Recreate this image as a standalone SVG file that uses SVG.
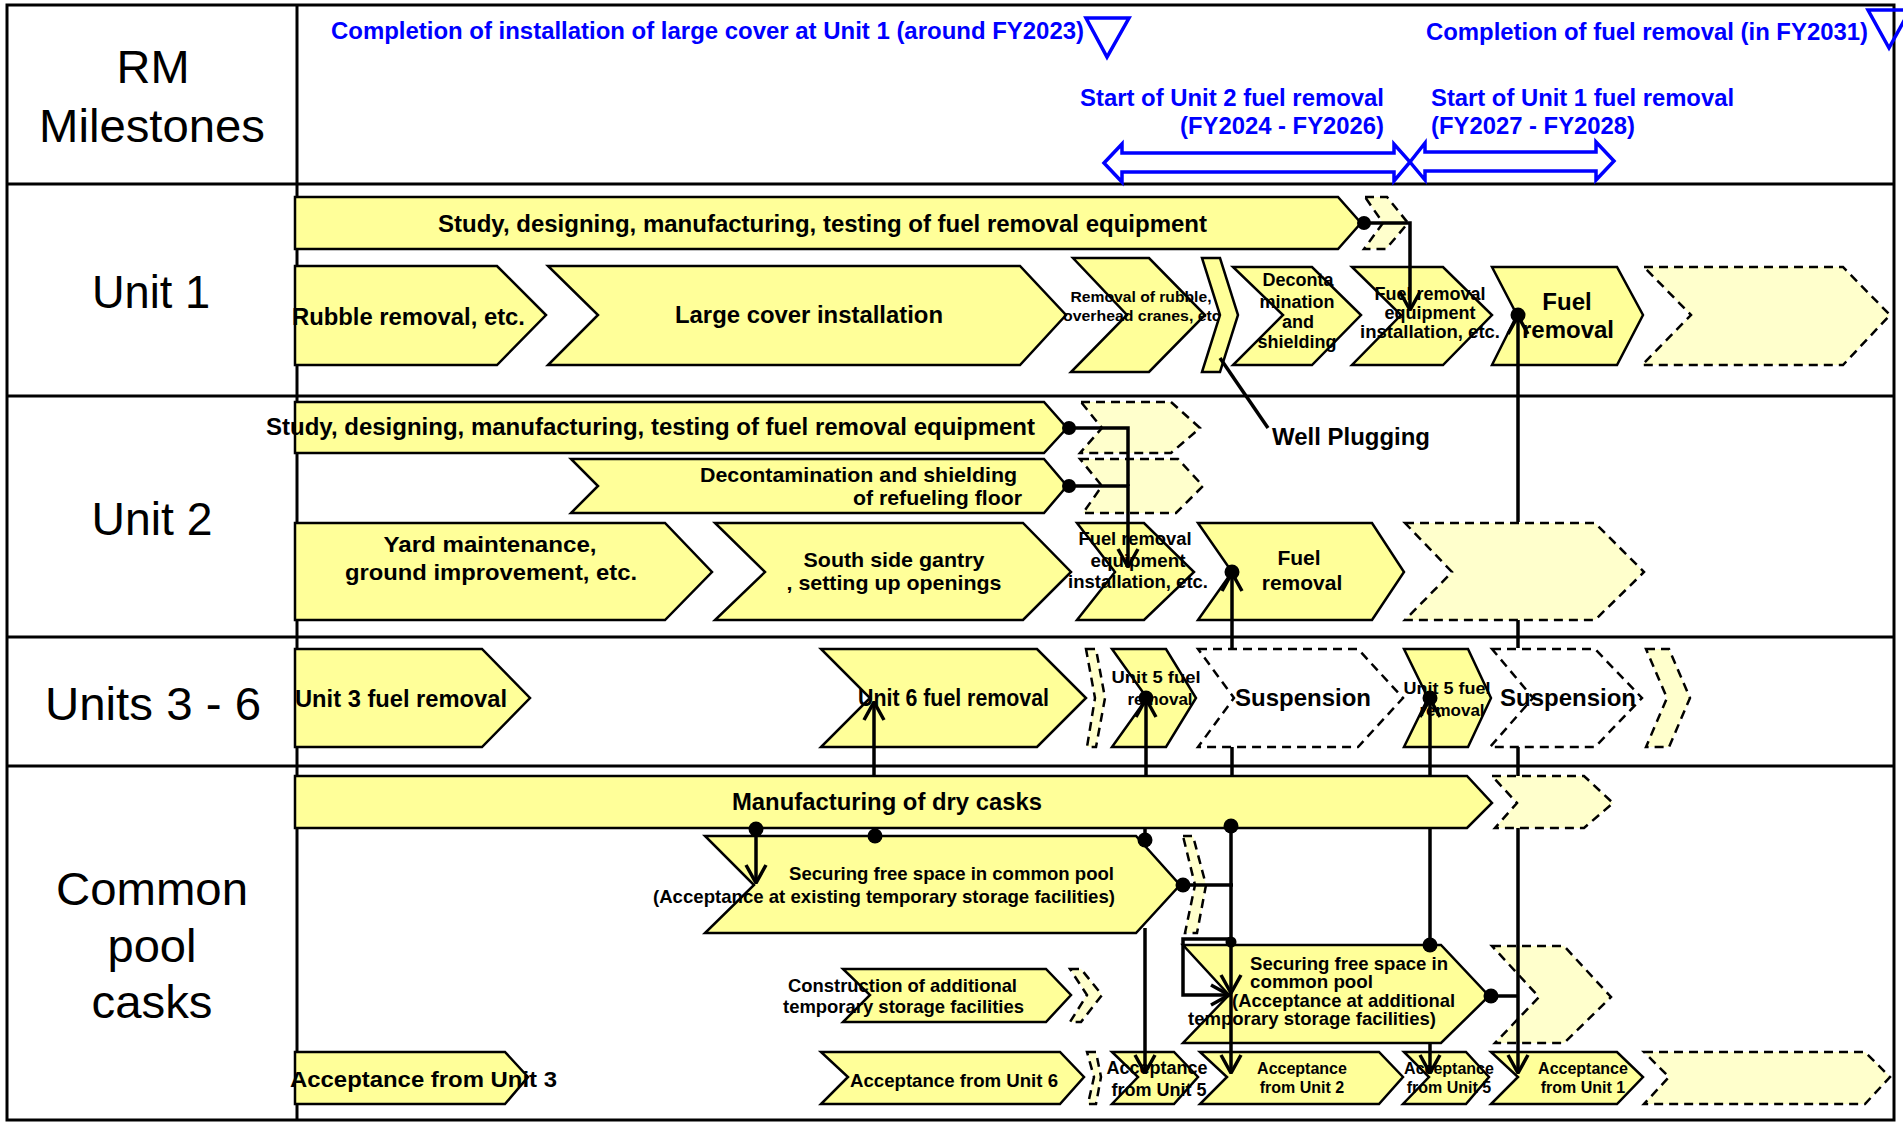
<svg xmlns="http://www.w3.org/2000/svg" width="1903" height="1123" viewBox="0 0 1903 1123">
<style>
.s{fill:#FFFF99;stroke:#000;stroke-width:2.5}
.d{fill:#FFFFCC;stroke:#000;stroke-width:2.5;stroke-dasharray:9 6}
.w{fill:#fff;stroke:#000;stroke-width:2.5;stroke-dasharray:9 6}
.t{font-family:"Liberation Sans",Arial,sans-serif;font-weight:bold;fill:#000}
.m{text-anchor:middle}
.e{text-anchor:end}
.lab{font-family:"Liberation Sans",Arial,sans-serif;font-size:47px;text-anchor:middle;fill:#000}
.bl{font-family:"Liberation Sans",Arial,sans-serif;font-weight:bold;font-size:23px;fill:#0000FF}
.ba{fill:none;stroke:#0000FF;stroke-width:3.5}
.grid{stroke:#000;stroke-width:3;fill:none}
.c{fill:none;stroke:#000;stroke-width:3.5}
.dot{fill:#000}
</style>
<defs>
<marker id="v" viewBox="0 0 20 24" refX="19" refY="12" markerWidth="20" markerHeight="24" markerUnits="userSpaceOnUse" orient="auto">
<path d="M1,2 L19,12 L1,22" fill="none" stroke="#000" stroke-width="3.5"/>
</marker>
</defs>
<rect width="1903" height="1123" fill="#fff"/>
<g id="grid">
<rect x="7" y="5" width="1887" height="1115" class="grid"/>
<line x1="297" y1="5" x2="297" y2="1120" class="grid"/>
<line x1="7" y1="184" x2="1894" y2="184" class="grid"/>
<line x1="7" y1="396" x2="1894" y2="396" class="grid"/>
<line x1="7" y1="637" x2="1894" y2="637" class="grid"/>
<line x1="7" y1="766" x2="1894" y2="766" class="grid"/>
</g>
<g id="row-labels">
<text class="lab" x="153" y="83" textLength="73" lengthAdjust="spacingAndGlyphs">RM</text>
<text class="lab" x="152" y="142" textLength="226" lengthAdjust="spacingAndGlyphs">Milestones</text>
<text class="lab" x="151" y="308" textLength="118" lengthAdjust="spacingAndGlyphs">Unit 1</text>
<text class="lab" x="152" y="535" textLength="121" lengthAdjust="spacingAndGlyphs">Unit 2</text>
<text class="lab" x="153" y="720" textLength="216" lengthAdjust="spacingAndGlyphs">Units 3 - 6</text>
<text class="lab" x="152" y="905" textLength="192" lengthAdjust="spacingAndGlyphs">Common</text>
<text class="lab" x="152" y="962" textLength="89" lengthAdjust="spacingAndGlyphs">pool</text>
<text class="lab" x="152" y="1018" textLength="121" lengthAdjust="spacingAndGlyphs">casks</text>
</g>
<g id="milestones">
<g id="ms-cover">
<text class="bl" x="331" y="39" textLength="753" lengthAdjust="spacingAndGlyphs">Completion of installation of large cover at Unit 1 (around FY2023)</text>
<polygon class="ba" points="1086,18 1129,18 1107,57"/>
</g>
<g id="ms-complete">
<text class="bl" x="1426" y="40" textLength="442" lengthAdjust="spacingAndGlyphs">Completion of fuel removal (in FY2031)</text>
<polygon class="ba" points="1868,10 1910,10 1889,48"/>
</g>
<g id="ms-unit2">
<text class="bl" x="1080" y="106" textLength="304" lengthAdjust="spacingAndGlyphs">Start of Unit 2 fuel removal</text>
<text class="bl" x="1180" y="134" textLength="204" lengthAdjust="spacingAndGlyphs">(FY2024 - FY2026)</text>
<polygon class="ba" points="1104,163 1122,144 1122,153 1394,153 1394,144 1410,162 1394,181 1394,172 1122,172 1122,182"/>
</g>
<g id="ms-unit1">
<text class="bl" x="1431" y="106" textLength="303" lengthAdjust="spacingAndGlyphs">Start of Unit 1 fuel removal</text>
<text class="bl" x="1431" y="134" textLength="204" lengthAdjust="spacingAndGlyphs">(FY2027 - FY2028)</text>
<polygon class="ba" points="1410,162 1425,143 1425,152 1596,152 1596,142 1614,161 1596,180 1596,171 1425,171 1425,180"/>
</g>
</g>
<g id="unit1">
<g id="u1-study"><polygon class="s" points="295,197 1338,197 1361,223 1338,249 295,249"/>
<text class="t" x="438" y="232" font-size="23" textLength="769" lengthAdjust="spacingAndGlyphs">Study, designing, manufacturing, testing of fuel removal equipment</text></g>
<g id="u1-study-next"><polygon class="d" points="1365,197 1387,197 1408,223 1386,249 1364,249 1383,223"/></g>
<g id="u1-rubble"><polygon class="s" points="295,266 497,266 546,315 497,365 295,365"/>
<text class="t" x="292" y="325" font-size="23" textLength="233" lengthAdjust="spacingAndGlyphs">Rubble removal, etc.</text></g>
<g id="u1-cover"><polygon class="s" points="548,266 1020,266 1066,315 1020,365 548,365 598,315"/>
<text class="t" x="675" y="323" font-size="23" textLength="268" lengthAdjust="spacingAndGlyphs">Large cover installation</text></g>
<g id="u1-removal-rubble"><polygon class="s" points="1073,258 1149,258 1205,315 1149,372 1071,372 1127,315"/>
<text class="t m" x="1141" y="302" font-size="15" textLength="141" lengthAdjust="spacingAndGlyphs">Removal of rubble,</text>
<text class="t m" x="1144" y="321" font-size="15" textLength="162" lengthAdjust="spacingAndGlyphs">overhead cranes, etc.</text></g>
<g id="u1-well"><polygon class="s" points="1202,258 1220,258 1238,315 1220,372 1202,372 1220,315"/></g>
<g id="u1-decon"><polygon class="s" points="1233,267 1312,267 1361,315 1312,365 1233,365 1283,315"/>
<text class="t m" x="1298" y="286" font-size="18">Deconta</text>
<text class="t m" x="1297" y="308" font-size="18">mination</text>
<text class="t m" x="1298" y="328" font-size="18">and</text>
<text class="t m" x="1297" y="348" font-size="18">shielding</text></g>
<g id="u1-fuel-eq"><polygon class="s" points="1352,267 1443,267 1492,315 1443,365 1352,365 1401,315"/>
<text class="t m" x="1430" y="300" font-size="18">Fuel removal</text>
<text class="t m" x="1430" y="319" font-size="18">equipment</text>
<text class="t m" x="1430" y="338" font-size="18" textLength="140" lengthAdjust="spacingAndGlyphs">installation, etc.</text></g>
<g id="u1-fuel"><polygon class="s" points="1492,267 1617,267 1643,315 1617,365 1492,365 1517,315"/>
<text class="t m" x="1567" y="310" font-size="24">Fuel</text>
<text class="t m" x="1568" y="338" font-size="24">removal</text></g>
<g id="u1-next"><polygon class="d" points="1644,267 1843,267 1890,315 1843,365 1642,365 1691,315"/></g>
<g id="u1-well-label"><text class="t" x="1272" y="445" font-size="23" textLength="158" lengthAdjust="spacingAndGlyphs">Well Plugging</text></g>
</g>
<g id="unit2">
<g id="u2-study"><polygon class="s" points="295,402 1044,402 1067,428 1044,453 295,453"/>
<text class="t" x="266" y="435" font-size="23" textLength="769" lengthAdjust="spacingAndGlyphs">Study, designing, manufacturing, testing of fuel removal equipment</text></g>
<g id="u2-study-next"><polygon class="d" points="1081,402 1171,402 1200,428 1171,453 1080,453 1102,428"/></g>
<g id="u2-decon"><polygon class="s" points="571,459 1044,459 1067,486 1044,513 571,513 598,486"/>
<text class="t e" x="1017" y="482" font-size="21" textLength="317" lengthAdjust="spacingAndGlyphs">Decontamination and shielding</text>
<text class="t e" x="1022" y="505" font-size="21" textLength="169" lengthAdjust="spacingAndGlyphs">of refueling floor</text></g>
<g id="u2-decon-next"><polygon class="d" points="1080,459 1178,459 1203,486 1176,513 1083,513 1102,486"/></g>
<g id="u2-yard"><polygon class="s" points="295,523 665,523 712,572 665,620 295,620"/>
<text class="t m" x="490" y="552" font-size="22" textLength="213" lengthAdjust="spacingAndGlyphs">Yard maintenance,</text>
<text class="t m" x="491" y="580" font-size="22" textLength="292" lengthAdjust="spacingAndGlyphs">ground improvement, etc.</text></g>
<g id="u2-south"><polygon class="s" points="715,523 1023,523 1071,572 1023,620 715,620 765,572"/>
<text class="t m" x="894" y="567" font-size="21" textLength="181" lengthAdjust="spacingAndGlyphs">South side gantry</text>
<text class="t m" x="894" y="590" font-size="21" textLength="215" lengthAdjust="spacingAndGlyphs">, setting up openings</text></g>
<g id="u2-fuel-eq"><polygon class="s" points="1077,523 1144,523 1194,572 1144,620 1077,620 1115,572"/>
<text class="t m" x="1135" y="545" font-size="18" textLength="113" lengthAdjust="spacingAndGlyphs">Fuel removal</text>
<text class="t m" x="1138" y="567" font-size="18" textLength="95" lengthAdjust="spacingAndGlyphs">equipment</text>
<text class="t m" x="1138" y="588" font-size="18" textLength="140" lengthAdjust="spacingAndGlyphs">installation, etc.</text></g>
<g id="u2-fuel"><polygon class="s" points="1198,523 1372,523 1404,572 1372,620 1198,620 1232,572"/>
<text class="t m" x="1299" y="565" font-size="21">Fuel</text>
<text class="t m" x="1302" y="590" font-size="21">removal</text></g>
<g id="u2-next"><polygon class="d" points="1405,523 1595,523 1644,572 1595,620 1405,620 1452,572"/></g>
</g>
<g id="units3-6">
<g id="u3-fuel"><polygon class="s" points="295,649 482,649 530,698 482,747 295,747"/>
<text class="t" x="295" y="707" font-size="23" textLength="212" lengthAdjust="spacingAndGlyphs">Unit 3 fuel removal</text></g>
<g id="u6-fuel"><polygon class="s" points="821,649 1037,649 1086,698 1037,747 821,747 870,698"/>
<text class="t" x="858" y="706" font-size="23" textLength="191" lengthAdjust="spacingAndGlyphs">Unit 6 fuel removal</text></g>
<g id="u6-next"><polygon class="d" points="1086,649 1096,649 1105,698 1096,747 1087,747 1095,698"/></g>
<g id="u5-fuel-a"><polygon class="s" points="1112,649 1166,649 1196,698 1166,747 1112,747 1147,698"/>
<text class="t m" x="1156" y="683" font-size="17" textLength="89" lengthAdjust="spacingAndGlyphs">Unit 5 fuel</text>
<text class="t m" x="1160" y="705" font-size="17">removal</text></g>
<g id="susp-a"><polygon class="w" points="1198,649 1358,649 1403,698 1358,747 1198,747 1234,698"/>
<text class="t" x="1235" y="706" font-size="24" textLength="136" lengthAdjust="spacingAndGlyphs">Suspension</text></g>
<g id="u5-fuel-b"><polygon class="s" points="1404,649 1468,649 1491,698 1468,747 1404,747 1428,698"/>
<text class="t m" x="1447" y="694" font-size="17" textLength="87" lengthAdjust="spacingAndGlyphs">Unit 5 fuel</text>
<text class="t m" x="1452" y="716" font-size="17">removal</text></g>
<g id="susp-b"><polygon class="w" points="1492,649 1595,649 1642,698 1595,747 1490,747 1533,698"/>
<text class="t" x="1500" y="706" font-size="24" textLength="136" lengthAdjust="spacingAndGlyphs">Suspension</text></g>
<g id="u36-next"><polygon class="d" points="1646,649 1669,649 1690,698 1669,747 1646,747 1667,698"/></g>
</g>
<g id="casks">
<g id="c-manuf"><polygon class="s" points="295,776 1467,776 1492,803 1467,828 295,828"/>
<text class="t" x="732" y="810" font-size="24" textLength="310" lengthAdjust="spacingAndGlyphs">Manufacturing of dry casks</text></g>
<g id="c-manuf-next"><polygon class="d" points="1492,776 1584,776 1613,803 1584,828 1495,828 1517,803"/></g>
<g id="c-secure-exist"><polygon class="s" points="705,836 1136,836 1180,885 1136,933 705,933 754,885"/>
<text class="t e" x="1114" y="880" font-size="19" textLength="325" lengthAdjust="spacingAndGlyphs">Securing free space in common pool</text>
<text class="t e" x="1115" y="903" font-size="19" textLength="462" lengthAdjust="spacingAndGlyphs">(Acceptance at existing temporary storage facilities)</text></g>
<g id="c-secure-exist-next"><polygon class="d" points="1183,836 1193,836 1206,885 1197,933 1185,933 1195,885"/></g>
<g id="c-construct"><polygon class="s" points="843,969 1046,969 1071,995 1046,1022 843,1022 870,995"/>
<text class="t" x="788" y="992" font-size="19" textLength="229" lengthAdjust="spacingAndGlyphs">Construction of additional</text>
<text class="t" x="783" y="1013" font-size="19" textLength="241" lengthAdjust="spacingAndGlyphs">temporary storage facilities</text></g>
<g id="c-construct-next"><polygon class="d" points="1070,969 1081,969 1102,995 1081,1022 1070,1022 1087,995"/></g>
<g id="c-secure-add"><polygon class="s" points="1183,945 1441,945 1489,996 1441,1043 1183,1043 1229,995"/>
<text class="t" x="1250" y="970" font-size="19" textLength="198" lengthAdjust="spacingAndGlyphs">Securing free space in</text>
<text class="t" x="1250" y="988" font-size="19" textLength="123" lengthAdjust="spacingAndGlyphs">common pool</text>
<text class="t" x="1232" y="1007" font-size="19" textLength="223" lengthAdjust="spacingAndGlyphs">(Acceptance at additional</text>
<text class="t" x="1188" y="1025" font-size="19" textLength="248" lengthAdjust="spacingAndGlyphs">temporary storage facilities)</text></g>
<g id="c-secure-add-next"><polygon class="d" points="1492,946 1564,946 1611,997 1564,1043 1495,1043 1539,997"/></g>
<g id="c-acc3"><polygon class="s" points="295,1052 505,1052 528,1077 505,1104 295,1104"/>
<text class="t" x="290" y="1087" font-size="22" textLength="267" lengthAdjust="spacingAndGlyphs">Acceptance from Unit 3</text></g>
<g id="c-acc6"><polygon class="s" points="821,1052 1060,1052 1084,1077 1060,1104 821,1104 848,1077"/>
<text class="t" x="850" y="1087" font-size="19" textLength="208" lengthAdjust="spacingAndGlyphs">Acceptance from Unit 6</text></g>
<g id="c-acc6-next"><polygon class="d" points="1087,1052 1096,1052 1101,1077 1096,1104 1088,1104 1094,1077"/></g>
<g id="c-acc5a"><polygon class="s" points="1112,1052 1174,1052 1198,1077 1174,1104 1112,1104 1138,1077"/>
<text class="t m" x="1157" y="1074" font-size="18">Acceptance</text>
<text class="t m" x="1159" y="1096" font-size="18">from Unit 5</text></g>
<g id="c-acc2"><polygon class="s" points="1200,1052 1379,1052 1403,1077 1379,1104 1200,1104 1227,1077"/>
<text class="t m" x="1302" y="1074" font-size="16">Acceptance</text>
<text class="t m" x="1302" y="1093" font-size="16">from Unit 2</text></g>
<g id="c-acc5b"><polygon class="s" points="1404,1052 1466,1052 1489,1077 1466,1104 1403,1104 1429,1077"/>
<text class="t m" x="1449" y="1074" font-size="16">Acceptance</text>
<text class="t m" x="1449" y="1093" font-size="16">from Unit 5</text></g>
<g id="c-acc1"><polygon class="s" points="1491,1052 1617,1052 1643,1077 1617,1104 1491,1104 1518,1077"/>
<text class="t m" x="1583" y="1074" font-size="16">Acceptance</text>
<text class="t m" x="1583" y="1093" font-size="16">from Unit 1</text></g>
<g id="c-acc-next"><polygon class="d" points="1644,1052 1865,1052 1890,1077 1865,1104 1644,1104 1669,1077"/></g>
</g>
<g id="connectors">
<path class="c" d="M1220,358 L1268,428" stroke-width="2.5"/>
<path class="c" d="M1364,223 H1410 V310" marker-end="url(#v)"/>
<path class="c" d="M1069,428 H1128 V486"/>
<path class="c" d="M1069,486 H1128 V567" marker-end="url(#v)"/>
<path class="c" d="M1518,522 V316" marker-end="url(#v)"/>
<path class="c" d="M1518,620 V648 M1518,747 V776"/>
<path class="c" d="M1518,828 V1073" marker-end="url(#v)"/>
<path class="c" d="M1232,648 V573" marker-end="url(#v)"/>
<path class="c" d="M1232,747 V776"/>
<path class="c" d="M1231,828 V993" marker-end="url(#v)"/>
<path class="c" d="M1231,993 V1073" marker-end="url(#v)"/>
<path class="c" d="M1146,776 V699" marker-end="url(#v)"/>
<path class="c" d="M1145,828 V846"/>
<path class="c" d="M1145,928 V1073" marker-end="url(#v)"/>
<path class="c" d="M874,776 V702" marker-end="url(#v)"/>
<path class="c" d="M874,828 V837"/>
<path class="c" d="M756,829 V883" marker-end="url(#v)"/>
<path class="c" d="M1430,776 V699" marker-end="url(#v)"/>
<path class="c" d="M1430,828 V945"/>
<path class="c" d="M1430,1043 V1073" marker-end="url(#v)"/>
<path class="c" d="M1183,885 H1233"/>
<path class="c" d="M1231,939 H1183 V995 H1229" marker-end="url(#v)"/>
<path class="c" d="M1491,996 H1518"/>
<circle class="dot" cx="1364" cy="223" r="7"/>
<circle class="dot" cx="1069" cy="428" r="7"/>
<circle class="dot" cx="1069" cy="486" r="7"/>
<circle class="dot" cx="1518" cy="315" r="7.5"/>
<circle class="dot" cx="1232" cy="572" r="7.5"/>
<circle class="dot" cx="1146" cy="698" r="7.5"/>
<circle class="dot" cx="1430" cy="698" r="7.5"/>
<circle class="dot" cx="756" cy="829" r="7.5"/>
<circle class="dot" cx="875" cy="836" r="7.5"/>
<circle class="dot" cx="1145" cy="840" r="7.5"/>
<circle class="dot" cx="1231" cy="826" r="7.5"/>
<circle class="dot" cx="1430" cy="945" r="7.5"/>
<circle class="dot" cx="1183" cy="885" r="7.5"/>
<circle class="dot" cx="1231" cy="942" r="5.5"/>
<circle class="dot" cx="1491" cy="996" r="7.5"/>
</g>
</svg>
